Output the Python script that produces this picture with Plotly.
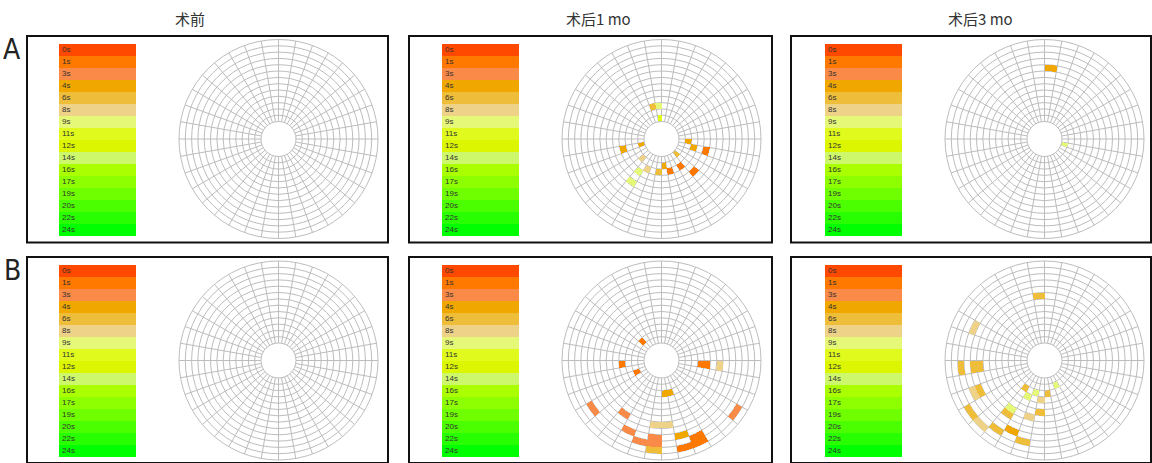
import plotly.graph_objects as go

W, H = 1152, 463

# ---------------- data ----------------
time_labels = ["0s", "1s", "3s", "4s", "6s", "8s", "9s", "11s", "12s", "14s",
               "16s", "17s", "19s", "20s", "22s", "24s"]
time_colors = ["#FF4800", "#FF7800", "#F98A48", "#F0A800", "#EEBD3A", "#EDD288",
               "#E6F878", "#E0FA1E", "#DCF500", "#CEF86C", "#AAFF00", "#8EFF00",
               "#70FF00", "#4CFF00", "#28FF00", "#00FF00"]

col_titles = ["术前", "术后1 mo", "术后3 mo"]
row_labels = ["A", "B"]

N_RINGS = 13
N_SECTORS = 36

# cells: ring index (0 = innermost), sector index (10 deg each, ccw from 3 o'clock), break-up time
a1_ring, a1_sector, a1_time = [], [], []

a2_ring = [2, 2, 0, 0, 3, 1, 3, 2, 5, 2, 1, 2, 2, 4, 0, 1, 2, 4]
a2_sector = [10, 9, 9, 19, 19, 22, 23, 24, 23, 26, 27, 28, 30, 31, 31, 35, 34, 34]
a2_time = ["6s", "9s", "11s", "4s", "4s", "8s", "9s", "8s", "9s", "6s", "4s", "1s",
           "1s", "1s", "6s", "4s", "4s", "1s"]

a3_ring = [8, 0]
a3_sector = [8, 34]
a3_time = ["4s", "9s"]

b1_ring, b1_sector, b1_time = [], [], []

b2_ring = [1, 3, 1, 3, 4, 6, 2, 2, 10, 7, 7, 7, 9, 10, 9, 10, 11, 9, 10, 11, 11, 11]
b2_sector = [13, 18, 20, 35, 35, 35, 27, 28, 21, 23, 26, 27, 24, 25, 26, 26, 26, 28,
             29, 29, 28, 32]
b2_time = ["1s", "1s", "1s", "1s", "1s", "8s", "4s", "4s", "3s", "3s", "8s", "8s", "3s",
           "3s", "3s", "3s", "6s", "4s", "1s", "1s", "1s", "3s"]

b3_ring = [7, 9, 10, 7, 8, 8, 9, 2, 3, 2, 3, 2, 1, 6, 5, 6, 7, 11, 11, 10, 9, 10]
b3_sector = [9, 15, 18, 18, 18, 20, 20, 23, 24, 25, 26, 27, 29, 25, 26, 23, 23, 21, 22,
             23, 24, 25]
b3_time = ["6s", "8s", "6s", "6s", "6s", "6s", "8s", "6s", "9s", "9s", "8s", "6s", "9s",
           "8s", "6s", "9s", "6s", "6s", "8s", "6s", "4s", "6s"]

panels = [
    (a1_ring, a1_sector, a1_time), (a2_ring, a2_sector, a2_time), (a3_ring, a3_sector, a3_time),
    (b1_ring, b1_sector, b1_time), (b2_ring, b2_sector, b2_time), (b3_ring, b3_sector, b3_time),
]

# ---------------- layout geometry (pixels) ----------------
col_polar_cx = [278.5, 661.5, 1044.5]
row_polar_cy = [139.0, 360.5]
R = 99.5
col_leg_x = [(59, 136), (442, 519), (825, 902)]
row_leg_y = [(43.5, 236), (264.5, 457)]
col_frame_x = [(27, 388), (409, 772), (791, 1151)]
row_frame_y = [(36, 242.5), (257, 463)]
title_x = [190, 598, 980]

color_of = dict(zip(time_labels, time_colors))


def px(x):
    return x / W


def py(y):
    return 1 - y / H


fig = go.Figure()
layout = dict(
    width=W, height=H, autosize=False,
    margin=dict(l=0, r=0, t=0, b=0, pad=0),
    paper_bgcolor="white", plot_bgcolor="white",
    showlegend=False, bargap=0,
)
shapes, annotations = [], []

grid_col = "#bdbdbd"

for k, (rings, sectors, times) in enumerate(panels):
    r_i, c_i = divmod(k, 3)
    idx = k + 1
    sfx = "" if idx == 1 else str(idx)

    # legend strip
    fig.add_trace(go.Bar(
        x=[1] * len(time_labels), y=time_labels, orientation="h",
        marker=dict(color=time_colors, line=dict(width=0)),
        text=time_labels, textposition="inside", insidetextanchor="start",
        textangle=0, constraintext="none",
        textfont=dict(size=8, color="#333333", family="Liberation Sans, Arial, sans-serif"),
        width=1, hoverinfo="skip",
        xaxis="x" + sfx, yaxis="y" + sfx,
    ))
    lx0, lx1 = col_leg_x[c_i]
    ly0, ly1 = row_leg_y[r_i]
    layout["xaxis" + sfx] = dict(domain=[px(lx0), px(lx1)], range=[0, 1], visible=False,
                                 fixedrange=True)
    layout["yaxis" + sfx] = dict(domain=[py(ly1), py(ly0)], range=[15.5, -0.5],
                                 visible=False, fixedrange=True, type="category")

    # polar map
    fig.add_trace(go.Barpolar(
        r=[1] * len(rings), base=rings,
        theta=[s * 360 / N_SECTORS + 180 / N_SECTORS for s in sectors],
        width=[360 / N_SECTORS] * len(rings),
        marker=dict(color=[color_of[t] for t in times], line=dict(width=0)),
        hoverinfo="skip",
        subplot="polar" + sfx,
    ))
    cx, cy = col_polar_cx[c_i], row_polar_cy[r_i]
    layout["polar" + sfx] = dict(
        domain=dict(x=[px(cx - R), px(cx + R)], y=[py(cy + R), py(cy - R)]),
        hole=0.176, bgcolor="white",
        radialaxis=dict(range=[0, N_RINGS], tickvals=list(range(0, N_RINGS + 1)),
                        showticklabels=False, ticks="", gridcolor=grid_col, gridwidth=1,
                        showline=False, layer="above traces"),
        angularaxis=dict(tickvals=list(range(0, 360, 360 // N_SECTORS)),
                         showticklabels=False, ticks="", gridcolor=grid_col, gridwidth=1,
                         showline=True, linecolor=grid_col, linewidth=1,
                         direction="counterclockwise", rotation=0, layer="above traces"),
    )

    # panel frame
    fx0, fx1 = col_frame_x[c_i]
    fy0, fy1 = row_frame_y[r_i]
    shapes.append(dict(type="rect", xref="paper", yref="paper",
                       x0=px(fx0), x1=px(fx1), y0=py(fy1), y1=py(fy0),
                       line=dict(color="#111", width=2), fillcolor="rgba(0,0,0,0)"))

for c_i, t in enumerate(col_titles):
    annotations.append(dict(text=t, x=px(title_x[c_i]), y=py(18), xref="paper", yref="paper",
                            showarrow=False, xanchor="center", yanchor="middle",
                            font=dict(size=15, color="#333",
                                      family="Noto Sans CJK SC, sans-serif")))
for r_i, t in enumerate(row_labels):
    annotations.append(dict(text=t, x=px(12), y=py([50, 270][r_i]), xref="paper",
                            yref="paper", showarrow=False, xanchor="center",
                            yanchor="middle",
                            font=dict(size=28, color="#222",
                                      family="Liberation Sans Narrow, DejaVu Sans Condensed, Roboto Condensed, Liberation Sans, sans-serif")))

layout["shapes"] = shapes
layout["annotations"] = annotations
fig.update_layout(**layout)
fig.write_html("out.html", config={"displayModeBar": False, "staticPlot": True},
               post_script="document.body.style.margin='0px';document.body.style.overflow='hidden';")
